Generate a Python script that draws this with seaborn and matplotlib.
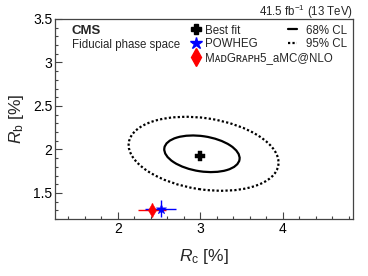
import numpy as np
import pandas as pd
import matplotlib
matplotlib.use("Agg")
import matplotlib.pyplot as plt
import seaborn as sns
from matplotlib.patches import Ellipse
from matplotlib.lines import Line2D
from matplotlib.ticker import MultipleLocator

sns.set_theme(style="ticks")
plt.rcParams["font.family"] = ["Liberation Sans", "DejaVu Sans"]
plt.rcParams["mathtext.fontset"] = "custom"
plt.rcParams["mathtext.rm"] = "Liberation Sans"
plt.rcParams["mathtext.it"] = "Liberation Sans:italic"

# ---- data ----
point_labels = ["Best fit", "POWHEG", "MᴀᴅGʀᴀᴘʜ5_aMC@NLO"]
rc_values = [3.00, 2.52, 2.42]
rb_values = [1.92, 1.32, 1.30]
rc_errors = [0.0, 0.19, 0.17]
rb_errors = [0.0, 0.10, 0.08]

cl_labels = ["68% CL", "95% CL"]
cl_rc_center = [3.02, 3.04]
cl_rb_center = [1.95, 1.95]
cl_width = [0.92, 1.83]
cl_height = [0.405, 0.82]
cl_angle = [-8.0, -8.0]

x_ticks = [2, 3, 4]
y_ticks = [1.5, 2, 2.5, 3, 3.5]

colors = ["black", "blue", "red"]
markers = ["P", "*", "d"]
msizes = [45, 60, 50]
leg_msizes = [7, 9, 9]
cl_styles = ["-", (0, (1, 1))]

df = pd.DataFrame({"label": point_labels, "rc": rc_values, "rb": rb_values,
                   "rc_err": rc_errors, "rb_err": rb_errors})

fig = plt.figure(figsize=(3.68, 2.76), dpi=100)
ax = fig.add_axes([55/368, 1-219/276, 298/368, 200/276])

# CL ellipses
for cx, cy, w, h, a, ls in zip(cl_rc_center, cl_rb_center, cl_width, cl_height, cl_angle, cl_styles):
    ax.add_patch(Ellipse((cx, cy), w, h, angle=a, fill=False, edgecolor="black",
                         linewidth=1.6, linestyle=ls))

# error bars (drawn under markers)
for i in [2, 1]:
    r = df.iloc[i]
    ax.errorbar(r["rc"], r["rb"], xerr=r["rc_err"], yerr=r["rb_err"], fmt="none",
                ecolor=colors[i], elinewidth=1.0, capsize=0, zorder=3)

for i in [2, 1, 0]:
    sub = df.iloc[[i]]
    sns.scatterplot(data=sub, x="rc", y="rb", ax=ax, marker=markers[i], color=colors[i],
                    s=msizes[i], edgecolor=colors[i], linewidth=0.3, zorder=4, legend=False)

ax.set_xlim(1.24, 4.85)
ax.set_ylim(1.2, 3.5)
ax.set_xticks(x_ticks)
ax.set_xticklabels([str(t) for t in x_ticks])
ax.set_yticks(y_ticks)
ax.set_yticklabels(["1.5", "2", "2.5", "3", "3.5"])
ax.xaxis.set_minor_locator(MultipleLocator(0.2))
ax.yaxis.set_minor_locator(MultipleLocator(0.1))
ax.tick_params(which="both", direction="in", top=False, right=False, colors="#444444",
               labelcolor="black", labelsize=10, pad=2)
ax.tick_params(which="major", length=5, width=0.8)
ax.tick_params(which="minor", length=2.5, width=0.8)
for s in ax.spines.values():
    s.set_color("#444444")
    s.set_linewidth(0.9)

ax.set_xlabel(r"$R_\mathrm{c}$ [%]", fontsize=12.5, labelpad=8)
ax.set_ylabel(r"$R_\mathrm{b}$ [%]", fontsize=12.5, labelpad=5)

fig.text(353/368, 1-16/276, r"41.5 fb$^{-1}$ (13 TeV)", ha="right", va="baseline", fontsize=8.3)
ax.text(72/368, 1-31/276, "CMS", transform=fig.transFigure, ha="left", va="center",
        fontsize=9.5, fontweight="bold")
ax.text(72/368, 1-45/276, "Fiducial phase space", transform=fig.transFigure, ha="left",
        va="center", fontsize=8.3)

h1 = [Line2D([], [], linestyle="none", marker=markers[i], color=colors[i],
             markersize=leg_msizes[i]) for i in range(3)]
leg1 = ax.legend(h1, point_labels, loc="upper left", bbox_to_anchor=(190/368, 1-24.5/276),
                 bbox_transform=fig.transFigure, frameon=False, fontsize=8.3,
                 handlelength=1.0, handletextpad=0.3, labelspacing=0.17, borderpad=0,
                 borderaxespad=0)
ax.add_artist(leg1)
h2 = [Line2D([], [], color="black", linewidth=1.6, linestyle=ls) for ls in cl_styles]
ax.legend(h2, cl_labels, loc="upper left", bbox_to_anchor=(288/368, 1-24.5/276),
          bbox_transform=fig.transFigure, frameon=False, fontsize=8.3,
          handlelength=0.78, handletextpad=0.75, labelspacing=0.17, borderpad=0,
          borderaxespad=0)

fig.savefig("out.png", dpi=100)
